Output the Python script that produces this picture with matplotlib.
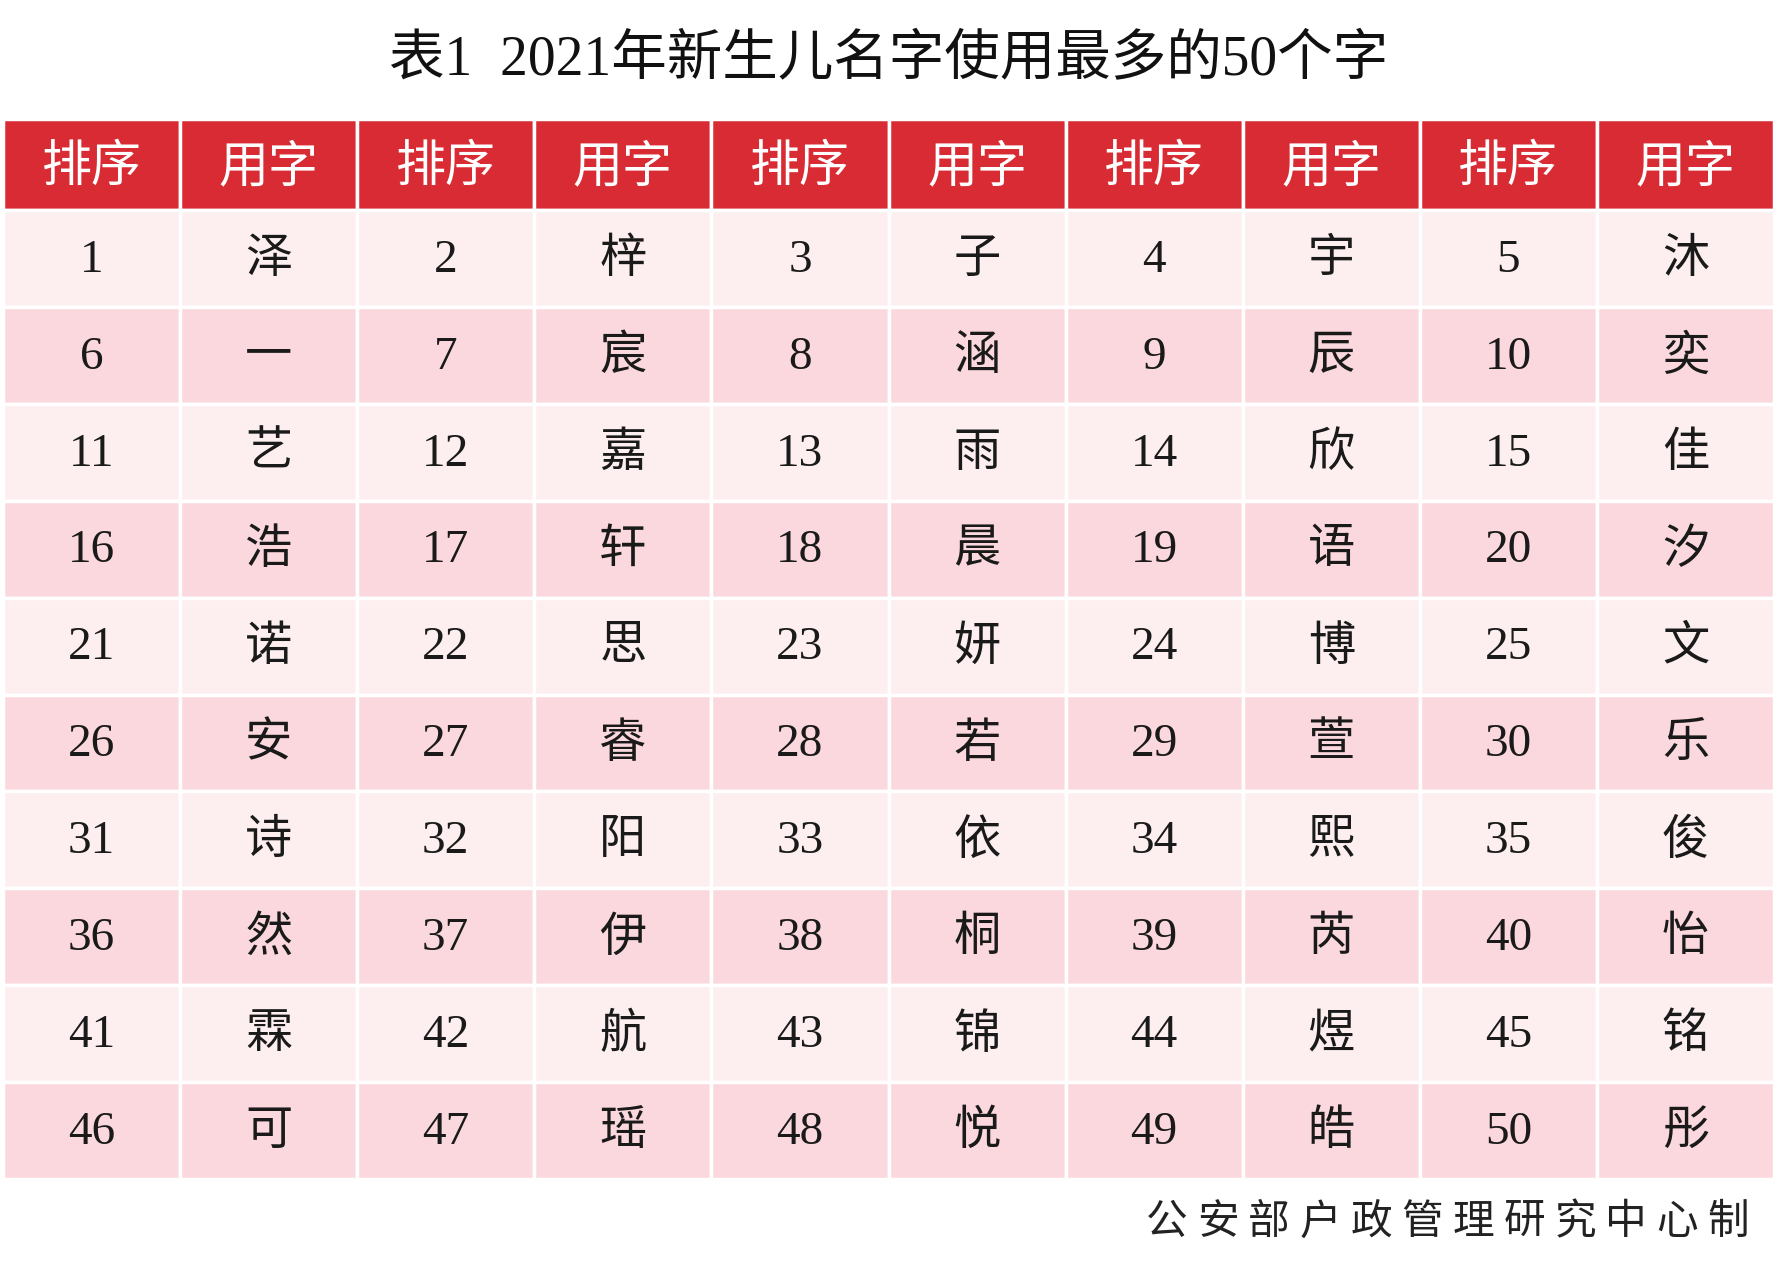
import matplotlib
matplotlib.use("Agg")
import matplotlib.pyplot as plt
from matplotlib.patches import Rectangle

plt.rcParams['font.family'] = ['Liberation Serif', 'Noto Sans CJK SC', 'DejaVu Sans']

title = "表1  2021年新生儿名字使用最多的50个字"
headers = ["排序", "用字"] * 5
chars = list("泽梓子宇沐一宸涵辰奕艺嘉雨欣佳浩轩晨语汐诺思妍博文"
             "安睿若萱乐诗阳依熙俊然伊桐芮怡霖航锦煜铭可瑶悦皓彤")
ranks = list(range(1, 51))
footer = "公安部户政管理研究中心制"

W, H = 1777, 1280
fig = plt.figure(figsize=(W / 100, H / 100), dpi=100)
ax = fig.add_axes([0, 0, 1, 1])
ax.set_xlim(0, W)
ax.set_ylim(H, 0)
ax.axis("off")

x0, x1 = 3, 1774
top, head_h, row_h = 119, 91, 96.9
col_w = (x1 - x0) / 10
red, light, pink = "#d92b33", "#fdeff0", "#fbd8dd"

ax.text(W / 2, 60, title, ha="center", va="center", fontsize=40,
        fontweight="medium", color="#111111")

for c, h in enumerate(headers):
    x = x0 + c * col_w
    ax.add_patch(Rectangle((x, top), col_w, head_h, fc=red, ec="white", lw=2.5))
    ax.text(x + col_w / 2, top + head_h / 2 + 4, h, ha="center", va="center",
            fontsize=36, color="white", fontweight="medium")

for i, (r, ch) in enumerate(zip(ranks, chars)):
    row, k = divmod(i, 5)
    y = top + head_h + row * row_h
    fc = light if row % 2 == 0 else pink
    for j, val in enumerate([str(r), ch]):
        x = x0 + (2 * k + j) * col_w
        ax.add_patch(Rectangle((x, y), col_w, row_h, fc=fc, ec="white", lw=2.5))
        ax.text(x + col_w / 2, y + row_h / 2 + 2, val, ha="center", va="center",
                fontsize=34, color="#1a1a1a")

step = 51
for i, ch in enumerate(footer):
    ax.text(1749 - (len(footer) - 1 - i) * step, 1224, ch, ha="right",
            va="center", fontsize=30, color="#222222")

fig.savefig("out.png", dpi=100, facecolor="white")
